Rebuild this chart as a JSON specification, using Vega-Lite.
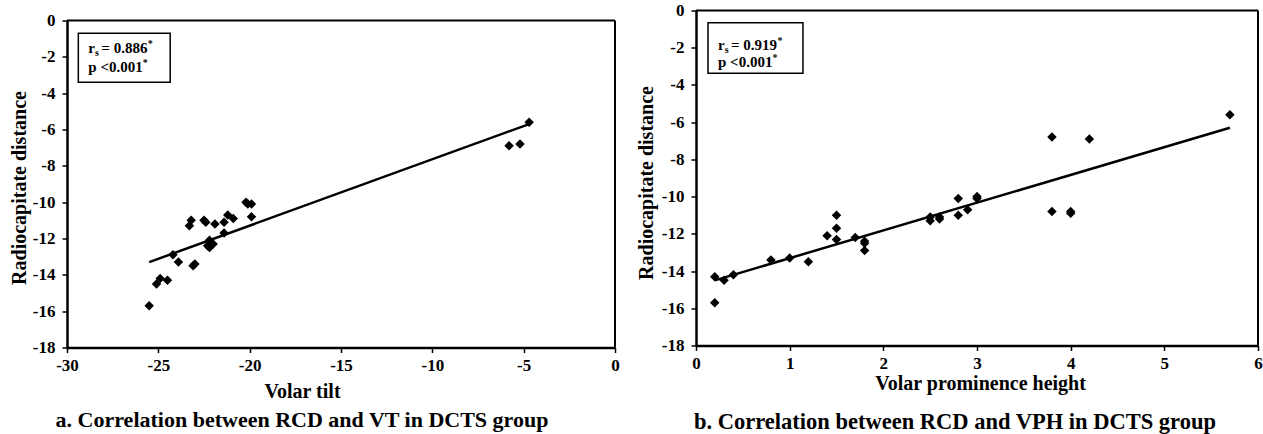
{
  "$schema": "https://vega.github.io/schema/vega-lite/v6.json",
  "background": "white",
  "padding": {"left": 9, "top": 1.5, "right": 5, "bottom": 5},
  "bounds": "flush",
  "spacing": 81,
  "config": {
    "view": {"stroke": null},
    "axis": {
      "labelFont": "Liberation Serif", "labelFontWeight": "bold", "labelFontSize": 17, "labelColor": "black",
      "titleFont": "Liberation Serif", "titleFontWeight": "bold", "titleFontSize": 20, "titleColor": "black",
      "domainColor": "black", "domainWidth": 2.5, "tickColor": "black", "tickWidth": 1.5, "tickSize": 5,
      "grid": false, "labelFlush": false, "labelOverlap": false
    },
    "title": {"font": "Liberation Serif", "fontWeight": "bold", "fontSize": 22, "color": "black"},
    "text": {"font": "Liberation Serif", "fontWeight": "bold", "color": "black", "align": "left", "baseline": "alphabetic"}
  },
  "datasets": {
    "vt": [
      {"vt": -25.5, "rcd": -15.7}, {"vt": -25.1, "rcd": -14.5}, {"vt": -24.9, "rcd": -14.2}, {"vt": -24.5, "rcd": -14.3},
      {"vt": -24.2, "rcd": -12.9}, {"vt": -23.9, "rcd": -13.3}, {"vt": -23.3, "rcd": -11.3}, {"vt": -23.2, "rcd": -11.0},
      {"vt": -23.1, "rcd": -13.5}, {"vt": -23.0, "rcd": -13.4}, {"vt": -22.5, "rcd": -11.0}, {"vt": -22.4, "rcd": -11.1},
      {"vt": -21.9, "rcd": -11.2}, {"vt": -22.2, "rcd": -12.1}, {"vt": -22.3, "rcd": -12.4}, {"vt": -22.2, "rcd": -12.5},
      {"vt": -22.1, "rcd": -12.3}, {"vt": -22.0, "rcd": -12.3}, {"vt": -21.4, "rcd": -11.7}, {"vt": -21.4, "rcd": -11.1},
      {"vt": -21.2, "rcd": -10.7}, {"vt": -20.9, "rcd": -10.9}, {"vt": -20.2, "rcd": -10.0}, {"vt": -20.1, "rcd": -10.1},
      {"vt": -19.9, "rcd": -10.1}, {"vt": -19.9, "rcd": -10.8}, {"vt": -5.8, "rcd": -6.9}, {"vt": -5.2, "rcd": -6.8},
      {"vt": -4.7, "rcd": -5.6}
    ],
    "vph": [
      {"vph": 0.2, "rcd": -14.3}, {"vph": 0.2, "rcd": -15.7}, {"vph": 0.3, "rcd": -14.5}, {"vph": 0.4, "rcd": -14.2},
      {"vph": 0.8, "rcd": -13.4}, {"vph": 1.0, "rcd": -13.3}, {"vph": 1.2, "rcd": -13.5}, {"vph": 1.4, "rcd": -12.1},
      {"vph": 1.5, "rcd": -11.0}, {"vph": 1.5, "rcd": -11.7}, {"vph": 1.5, "rcd": -12.3}, {"vph": 1.7, "rcd": -12.2},
      {"vph": 1.8, "rcd": -12.4}, {"vph": 1.8, "rcd": -12.5}, {"vph": 1.8, "rcd": -12.9}, {"vph": 2.5, "rcd": -11.1},
      {"vph": 2.5, "rcd": -11.3}, {"vph": 2.6, "rcd": -11.1}, {"vph": 2.6, "rcd": -11.2}, {"vph": 2.8, "rcd": -10.1},
      {"vph": 2.8, "rcd": -11.0}, {"vph": 2.9, "rcd": -10.7}, {"vph": 3.0, "rcd": -10.0}, {"vph": 3.0, "rcd": -10.1},
      {"vph": 3.8, "rcd": -6.8}, {"vph": 3.8, "rcd": -10.8}, {"vph": 4.0, "rcd": -10.8}, {"vph": 4.0, "rcd": -10.9},
      {"vph": 4.2, "rcd": -6.9}, {"vph": 5.7, "rcd": -5.6}
    ]
  },
  "hconcat": [
    {
      "width": 548,
      "height": 337,
      "title": {"text": "a. Correlation between RCD and VT in DCTS group", "orient": "bottom", "frame": "group", "anchor": "middle", "dx": -39, "offset": 8},
      "encoding": {
        "x": {"field": "vt", "type": "quantitative",
          "scale": {"domain": [-30, 0], "nice": false, "zero": false},
          "axis": {"title": "Volar tilt", "values": [-30, -25, -20, -15, -10, -5, 0], "format": "d", "labelExpr": "replace(datum.label, '−', '-')", "labelPadding": 5, "titleX": 235, "titleY": 50, "titleBaseline": "alphabetic"}},
        "y": {"field": "rcd", "type": "quantitative",
          "scale": {"domain": [-18, 0], "range": [337, 10], "nice": false, "zero": false},
          "axis": {"title": "Radiocapitate distance", "values": [-18, -16, -14, -12, -10, -8, -6, -4, -2, 0], "format": "d", "labelExpr": "replace(datum.label, '−', '-')", "labelPadding": 7, "titleX": -42, "titleY": 177, "titleBaseline": "alphabetic", "titleAngle": -90}}
      },
      "layer": [
        {
          "data": {"values": [{"vt": -25.5, "rcd": -13.3}, {"vt": -4.7, "rcd": -5.7}]},
          "mark": {"type": "line", "color": "black", "strokeWidth": 2.5}
        },
        {
          "data": {"name": "vt"},
          "mark": {"type": "point", "shape": "diamond", "filled": true, "color": "black", "size": 90, "opacity": 1, "strokeWidth": 0}
        },
        {
          "data": {"values": [{"vt": -30, "vt2": 0, "rcd": 0}]},
          "mark": {"type": "rule", "color": "black", "strokeWidth": 2},
          "encoding": {"x2": {"field": "vt2"}}
        },
        {
          "data": {"values": [{"vt": 0, "rcd": -18, "rcd2": 0}]},
          "mark": {"type": "rule", "color": "black", "strokeWidth": 2},
          "encoding": {"y2": {"field": "rcd2"}}
        },
        {
          "data": {"values": [{"vt": -29.38, "vt2": -24.35, "rcd": -0.70, "rcd2": -3.40}]},
          "mark": {"type": "rect", "fill": "white", "stroke": "black", "strokeWidth": 1.5},
          "encoding": {"x2": {"field": "vt2"}, "y2": {"field": "rcd2"}}
        },
        {
          "data": {"values": [{"vt": -28.83, "rcd": -1.80, "t": "r"}]},
          "mark": {"type": "text", "fontSize": 15},
          "encoding": {"text": {"field": "t"}}
        },
        {
          "data": {"values": [{"vt": -28.83, "rcd": -1.80, "t": "s"}]},
          "mark": {"type": "text", "fontSize": 10, "dx": 6.7, "dy": 3},
          "encoding": {"text": {"field": "t"}}
        },
        {
          "data": {"values": [{"vt": -28.83, "rcd": -1.80, "t": "= 0.886"}]},
          "mark": {"type": "text", "fontSize": 15, "dx": 13},
          "encoding": {"text": {"field": "t"}}
        },
        {
          "data": {"values": [{"vt": -28.83, "rcd": -1.80, "t": "*"}]},
          "mark": {"type": "text", "fontSize": 10, "dx": 59.5, "dy": -6},
          "encoding": {"text": {"field": "t"}}
        },
        {
          "data": {"values": [{"vt": -28.83, "rcd": -2.81, "t": "p <0.001"}]},
          "mark": {"type": "text", "fontSize": 15},
          "encoding": {"text": {"field": "t"}}
        },
        {
          "data": {"values": [{"vt": -28.83, "rcd": -2.81, "t": "*"}]},
          "mark": {"type": "text", "fontSize": 10, "dx": 54.5, "dy": -6},
          "encoding": {"text": {"field": "t"}}
        }
      ]
    },
    {
      "width": 562,
      "height": 335,
      "title": {"text": "b. Correlation between RCD and VPH in DCTS group", "orient": "bottom", "frame": "group", "anchor": "middle", "dx": -22, "offset": 17, "fontSize": 22.5},
      "encoding": {
        "x": {"field": "vph", "type": "quantitative",
          "scale": {"domain": [0, 6], "nice": false, "zero": false},
          "axis": {"title": "Volar prominence height", "values": [0, 1, 2, 3, 4, 5, 6], "format": "d", "labelPadding": 5, "titleX": 284, "titleY": 44, "titleBaseline": "alphabetic"}},
        "y": {"field": "rcd", "type": "quantitative",
          "scale": {"domain": [-18, 0], "nice": false, "zero": false},
          "axis": {"title": "Radiocapitate distance", "values": [-18, -16, -14, -12, -10, -8, -6, -4, -2, 0], "format": "d", "labelExpr": "replace(datum.label, '−', '-')", "labelPadding": 7, "titleX": -43.5, "titleY": 172, "titleBaseline": "alphabetic", "titleAngle": -90}}
      },
      "layer": [
        {
          "data": {"values": [{"vph": 0.2, "rcd": -14.5}, {"vph": 5.7, "rcd": -6.3}]},
          "mark": {"type": "line", "color": "black", "strokeWidth": 2.5}
        },
        {
          "data": {"name": "vph"},
          "mark": {"type": "point", "shape": "diamond", "filled": true, "color": "black", "size": 90, "opacity": 1, "strokeWidth": 0}
        },
        {
          "data": {"values": [{"vph": 0, "vph2": 6, "rcd": 0}]},
          "mark": {"type": "rule", "color": "black", "strokeWidth": 2},
          "encoding": {"x2": {"field": "vph2"}}
        },
        {
          "data": {"values": [{"vph": 6, "rcd": -18, "rcd2": 0}]},
          "mark": {"type": "rule", "color": "black", "strokeWidth": 2},
          "encoding": {"y2": {"field": "rcd2"}}
        },
        {
          "data": {"values": [{"vph": 0.128, "vph2": 1.142, "rcd": -0.66, "rcd2": -3.37}]},
          "mark": {"type": "rect", "fill": "white", "stroke": "black", "strokeWidth": 1.5},
          "encoding": {"x2": {"field": "vph2"}, "y2": {"field": "rcd2"}}
        },
        {
          "data": {"values": [{"vph": 0.235, "rcd": -2.11, "t": "r"}]},
          "mark": {"type": "text", "fontSize": 15},
          "encoding": {"text": {"field": "t"}}
        },
        {
          "data": {"values": [{"vph": 0.235, "rcd": -2.11, "t": "s"}]},
          "mark": {"type": "text", "fontSize": 10, "dx": 6.7, "dy": 3},
          "encoding": {"text": {"field": "t"}}
        },
        {
          "data": {"values": [{"vph": 0.235, "rcd": -2.11, "t": "= 0.919"}]},
          "mark": {"type": "text", "fontSize": 15, "dx": 13},
          "encoding": {"text": {"field": "t"}}
        },
        {
          "data": {"values": [{"vph": 0.235, "rcd": -2.11, "t": "*"}]},
          "mark": {"type": "text", "fontSize": 10, "dx": 59.5, "dy": -6},
          "encoding": {"text": {"field": "t"}}
        },
        {
          "data": {"values": [{"vph": 0.235, "rcd": -3.05, "t": "p <0.001"}]},
          "mark": {"type": "text", "fontSize": 15},
          "encoding": {"text": {"field": "t"}}
        },
        {
          "data": {"values": [{"vph": 0.235, "rcd": -3.05, "t": "*"}]},
          "mark": {"type": "text", "fontSize": 10, "dx": 54.5, "dy": -6},
          "encoding": {"text": {"field": "t"}}
        }
      ]
    }
  ]
}
